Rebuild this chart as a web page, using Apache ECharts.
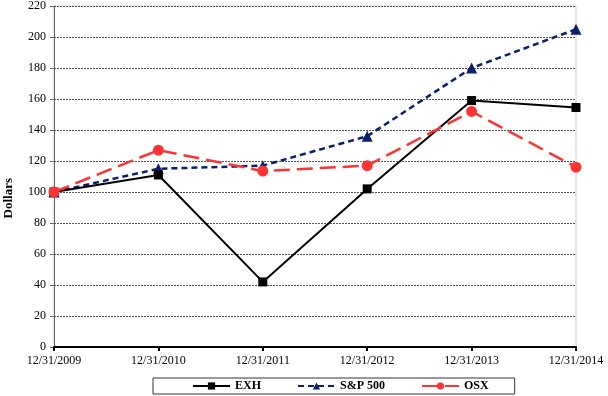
<!DOCTYPE html>
<html>
<head>
<meta charset="utf-8">
<script src="https://cdn.jsdelivr.net/npm/echarts@6/dist/echarts.min.js"></script>
<style>
  html, body { margin: 0; padding: 0; background: #fff; }
  #chart { width: 608px; height: 396px; }
</style>
</head>
<body>
<div id="chart"></div>
<script>
const dates = ["12/31/2009", "12/31/2010", "12/31/2011", "12/31/2012", "12/31/2013", "12/31/2014"];
const exh = [100, 111, 42, 102, 159, 154.5];
const sp500 = [100, 115, 117, 136, 180, 205];
const osx = [100, 127, 113.5, 117, 152, 116];

const serif = "Liberation Serif";

const chart = echarts.init(document.getElementById("chart"));
chart.setOption({
  animation: false,
  textStyle: { fontFamily: serif },
  grid: {
    left: 54,
    right: 32,
    top: 5,
    bottom: 49,
    show: true,
    borderColor: "#d0d0d0",
    borderWidth: 1,
  },
  legend: {
    data: ["EXH", "S&P 500", "OSX"],
    left: 153,
    top: 378,
    padding: [2, 26, 2, 39],
    itemGap: 36,
    itemWidth: 37,
    itemHeight: 9,
    borderColor: "#333",
    borderWidth: 1,
    borderRadius: 0,
    textStyle: { fontFamily: serif, fontWeight: "bold", fontSize: 12, color: "#000" },
  },
  graphic: [
    {
      type: "text",
      left: 2,
      top: 178,
      rotation: Math.PI / 2,
      style: { text: "Dollars", font: "bold 13px 'Liberation Serif'", fill: "#000" },
    },
  ],
  xAxis: {
    type: "category",
    data: dates,
    boundaryGap: false,
    axisLine: { lineStyle: { color: "#000", width: 2 } },
    axisTick: { show: true, length: 4, lineStyle: { color: "#000", width: 2 } },
    axisLabel: { color: "#000", fontSize: 12, margin: 8, fontFamily: serif },
    splitLine: { show: false },
  },
  yAxis: {
    type: "value",
    min: 0,
    max: 220,
    interval: 20,
    axisLine: { show: true, lineStyle: { color: "#666", width: 1 } },
    axisTick: { show: true, length: 4, lineStyle: { color: "#666" } },
    axisLabel: { color: "#000", fontSize: 12, margin: 8, fontFamily: serif },
    splitLine: { lineStyle: { color: "#555", type: [2, 1], width: 1 } },
  },
  series: [
    {
      name: "EXH",
      type: "line",
      data: exh,
      color: "#000",
      symbol: "rect",
      symbolSize: 9,
      lineStyle: { color: "#000", width: 2 },
      itemStyle: { color: "#000" },
      z: 3,
    },
    {
      name: "S&P 500",
      type: "line",
      data: sp500,
      color: "#0b1f6b",
      symbol: "triangle",
      symbolSize: 11,
      lineStyle: { color: "#0b1f6b", width: 2.5, type: [6, 4] },
      itemStyle: { color: "#0b1f6b" },
      z: 2,
    },
    {
      name: "OSX",
      type: "line",
      data: osx,
      color: "#ff3333",
      symbol: "circle",
      symbolSize: 11,
      lineStyle: { color: "#ff3333", width: 2.5, type: [16, 7] },
      itemStyle: { color: "#ff3333" },
      z: 4,
    },
  ],
});
</script>
</body>
</html>
